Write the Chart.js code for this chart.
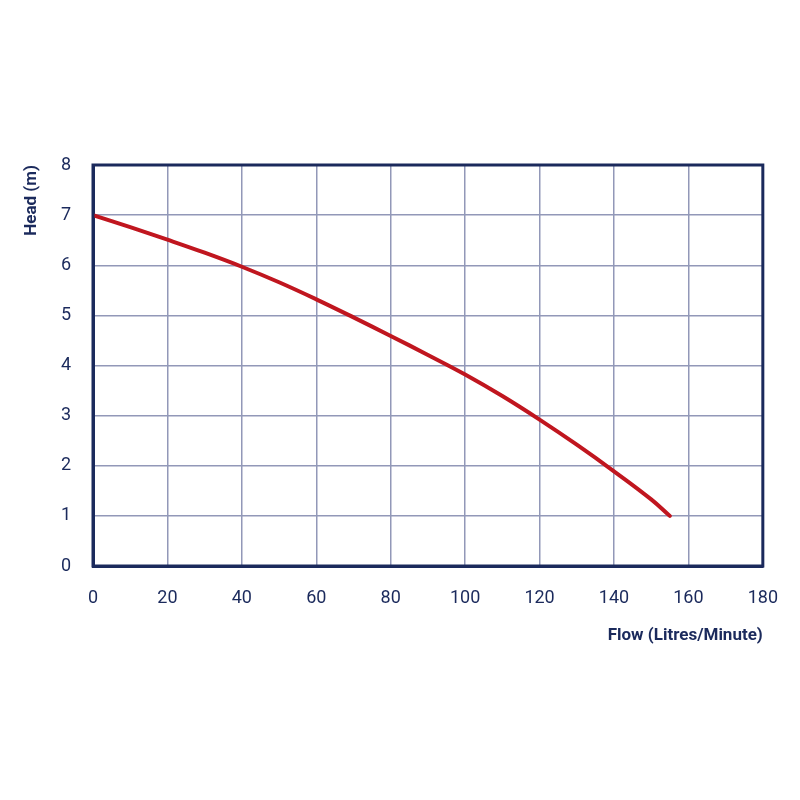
<!DOCTYPE html>
<html>
<head>
<meta charset="utf-8">
<script src="https://cdn.jsdelivr.net/npm/chart.js@4"></script>
<style>
  html, body { margin: 0; padding: 0; background: #fff; }
  #wrap { width: 800px; height: 800px; }
</style>
</head>
<body>
<div id="wrap"><canvas id="chart" width="800" height="800"></canvas></div>
<script>
// pump curve
const flow = [0, 10, 20, 30, 40, 50, 60, 70, 80, 90, 100, 110, 120, 130, 140, 150, 155];
const head = [7.0, 6.76, 6.51, 6.25, 5.97, 5.66, 5.32, 4.96, 4.59, 4.21, 3.82, 3.39, 2.92, 2.42, 1.89, 1.33, 1.0];
const xTicks = [0, 20, 40, 60, 80, 100, 120, 140, 160, 180];
const yTicks = [0, 1, 2, 3, 4, 5, 6, 7, 8];

const navy = '#1b2a5c';
const gridCol = '#9298b8';

// frame round the plot area, the axes only draw left/bottom
const frame = {
    id: 'frame',
    afterDraw(chart) {
        const a = chart.chartArea;
        const ctx = chart.ctx;
        ctx.save();
        ctx.strokeStyle = navy;
        ctx.lineWidth = 3;
        ctx.strokeRect(a.left, a.top, a.right - a.left, a.bottom - a.top);
        ctx.restore();
    }
};

const points = flow.map((f, i) => ({ x: f, y: head[i] }));

new Chart(document.getElementById('chart'), {
    type: 'scatter',
    data: {
        datasets: [{
            data: points,
            showLine: true,
            borderColor: '#c0161f',
            borderWidth: 4,
            borderCapStyle: 'round',
            pointRadius: 0,
            tension: 0.4
        }]
    },
    options: {
        responsive: false,
        animation: false,
        layout: { padding: { left: 18, right: 31, top: 165, bottom: 150 } },
        plugins: { legend: { display: false }, tooltip: { enabled: false } },
        scales: {
            x: {
                type: 'linear',
                min: 0, max: 180,
                afterBuildTicks: (s) => { s.ticks = xTicks.map(v => ({ value: v })); },
                afterFit: (s) => { s.height = 84; },
                grid: { color: gridCol, lineWidth: 1.5, drawTicks: false },
                border: { color: navy, width: 3 },
                ticks: { color: navy, padding: 22, font: { family: 'Roboto', size: 18 } },
                title: {
                    display: true, text: 'Flow (Litres/Minute)', align: 'end', color: navy,
                    font: { family: 'Roboto', size: 17, weight: 'bold' }, padding: { top: 6 }
                }
            },
            y: {
                min: 0, max: 8,
                afterBuildTicks: (s) => { s.ticks = yTicks.map(v => ({ value: v })); },
                afterFit: (s) => { s.width = 75; },
                grid: { color: gridCol, lineWidth: 1.5, drawTicks: false },
                border: { color: navy, width: 3 },
                ticks: { color: navy, padding: 22, font: { family: 'Roboto', size: 18 } },
                title: {
                    display: true, text: 'Head (m)', align: 'end', color: navy,
                    font: { family: 'Roboto', size: 17, weight: 'bold' }, padding: { bottom: 8 }
                }
            }
        }
    },
    plugins: [frame]
});
</script>
</body>
</html>
